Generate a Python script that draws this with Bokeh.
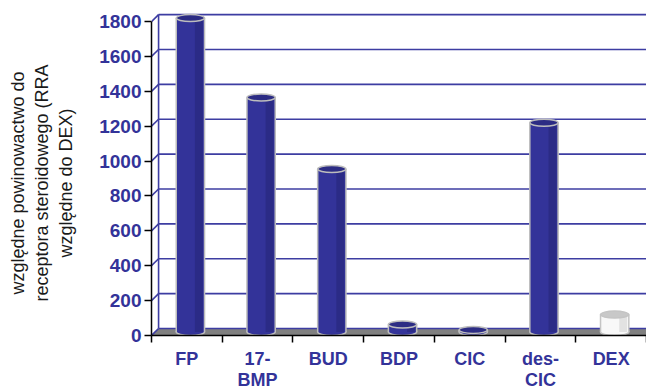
from bokeh.plotting import figure
from bokeh.models import Range1d, FixedTicker
from bokeh.embed import file_html
from bokeh.resources import INLINE

categories = ["FP", "17-BMP", "BUD", "BDP", "CIC", "des-CIC", "DEX"]
tick_labels = ["FP", "17-\nBMP", "BUD", "BDP", "CIC", "des-\nCIC", "DEX"]
values = [1800, 1345, 935, 43, 12, 1200, 100]
y_ticks = [0, 200, 400, 600, 800, 1000, 1200, 1400, 1600, 1800]
y_label_lines = ["względne powinowactwo do", "receptora steroidowego (RRA", "względne do DEX)"]

NAVY = "#333399"
FONT = "Liberation Sans"

n = len(categories)
p = figure(frame_width=495, frame_height=325, output_backend="svg", toolbar_location=None,
           x_range=Range1d(0, n), y_range=Range1d(0, 1863.5),
           min_border_left=151, min_border_right=0, min_border_top=10, min_border_bottom=0)
p.outline_line_color = None
p.xgrid.visible = False
p.ygrid.visible = False
p.background_fill_color = "white"

# depth offsets (3D look)
dx, dy = 0.1, 40.0

# floor
p.patch([0, n, n + dx, dx], [0, 0, dy, dy], fill_color="#808080", line_color=None)

# back wall gridlines + side diagonals
gc = "#3d3da2"
m = len(y_ticks)
p.segment(x0=[0] * m, y0=y_ticks, x1=[dx] * m, y1=[t + dy for t in y_ticks], line_color=gc, line_width=1.6)
p.segment(x0=[dx] * m, y0=[t + dy for t in y_ticks], x1=[n] * m, y1=[t + dy for t in y_ticks],
          line_color=gc, line_width=1.6)
p.segment(x0=[dx], y0=[dy], x1=[dx], y1=[max(y_ticks) + dy], line_color=gc, line_width=1.6)

# cylinders
bw = 0.4
xs = [i + 0.5 + dx / 2 for i in range(n)]
base = dy / 2
for i, (xc, v) in enumerate(zip(xs, values)):
    if categories[i] == "DEX":
        body, strip, top, edge = "#f8f8f8", "#e2e2e2", "#c8c8c8", "#c4c4c4"
    else:
        body, strip, top, edge = NAVY, "#2b2b86", "#2c2c84", "#bdbdbd"
    p.ellipse(x=[xc], y=[base], width=bw, height=dy, fill_color=body, line_color=edge, line_width=1.5)
    p.vbar(x=[xc], width=bw, bottom=base, top=v + base, fill_color=body, line_color=None)
    p.vbar(x=[xc + bw * 0.3], width=bw * 0.28, bottom=base, top=v + base, fill_color=strip, line_color=None)
    p.segment(x0=[xc - bw / 2, xc + bw / 2], y0=[base, base], x1=[xc - bw / 2, xc + bw / 2],
              y1=[v + base, v + base], line_color=edge, line_width=1.5)
    p.ellipse(x=[xc], y=[v + base], width=bw, height=dy, fill_color=top, line_color=edge, line_width=1.5)

# y axis
ya = p.yaxis[0]
ya.ticker = FixedTicker(ticks=y_ticks)
ya.bounds = (0, max(y_ticks))
ya.axis_line_color = "black"
ya.axis_line_width = 1.5
ya.major_tick_line_color = "black"
ya.major_tick_line_width = 1.5
ya.major_tick_out = 7
ya.major_tick_in = 0
ya.minor_tick_line_color = None
ya.major_label_standoff = 3
ya.major_label_text_font = FONT
ya.major_label_text_font_style = "bold"
ya.major_label_text_font_size = "19px"
ya.major_label_text_color = NAVY
# trailing no-break spaces nudge the centred rotated title slightly downwards, as in the reference
ya.axis_label = "\n".join(s + "\u00a0" * 4 for s in y_label_lines)
ya.axis_label_text_font = FONT
ya.axis_label_text_font_style = "normal"
ya.axis_label_text_font_size = "18px"
ya.axis_label_text_color = "#1a1a1a"
ya.axis_label_standoff = 20
ya.axis_label_text_line_height = 1.2

# x axis: labels at category centres, tick marks at category boundaries
xa = p.xaxis[0]
centres = [i + 0.5 for i in range(n)]
xa.ticker = FixedTicker(ticks=centres, minor_ticks=list(range(n + 1)))
xa.major_label_overrides = {c: t for c, t in zip(centres, tick_labels)}
xa.axis_line_color = "black"
xa.axis_line_width = 1.5
xa.major_tick_line_color = None
xa.major_tick_out = 0
xa.major_tick_in = 0
xa.minor_tick_line_color = "black"
xa.minor_tick_line_width = 1.5
xa.minor_tick_out = 7
xa.minor_tick_in = 0
xa.major_label_standoff = 6
xa.major_label_text_font = FONT
xa.major_label_text_font_style = "bold"
xa.major_label_text_font_size = "18px"
xa.major_label_text_color = NAVY
xa.major_label_text_line_height = 1.05

open("out.html", "w").write(file_html(p, INLINE))
